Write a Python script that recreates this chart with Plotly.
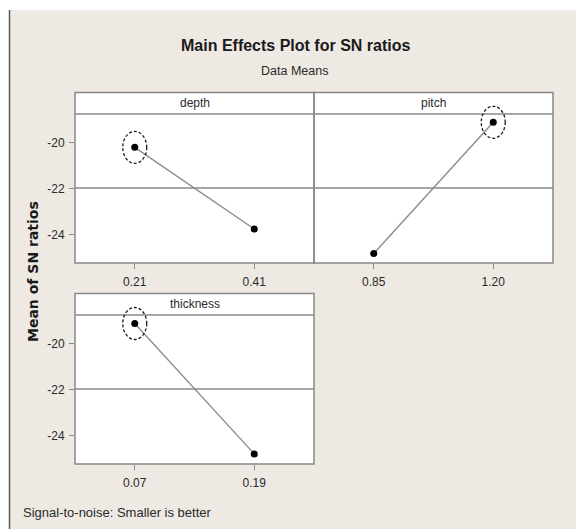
import plotly.graph_objects as go

W, H = 576, 529

# ---- data ----
factor_names = ["depth", "pitch", "thickness"]
depth_levels = ["0.21", "0.41"]
depth_sn = [-20.19, -23.74]
pitch_levels = ["0.85", "1.20"]
pitch_sn = [-24.81, -19.10]
thickness_levels = ["0.07", "0.19"]
thickness_sn = [-19.11, -24.78]
y_ticks = [-20, -22, -24]
y_range = [-25.22, -18.74]
x_range = [-0.5, 1.5]

levels_all = [depth_levels, pitch_levels, thickness_levels]
sn_all = [depth_sn, pitch_sn, thickness_sn]
overall_mean = sum(sum(v) for v in sn_all) / sum(len(v) for v in sn_all)


def px(x):
    return x / W


def py(y):
    return 1 - y / H


# panel geometry in pixels: (left, right, plot_top, plot_bottom, strip_top)
panels = [
    (75, 314, 114, 263, 92.5),
    (314, 553, 114, 263, 92.5),
    (75, 314, 315, 464, 293.5),
]

BEIGE = "#eee9e2"
GRID = "#888888"
TXT = "#2a2a2a"
FONT = "Liberation Sans, Arial, sans-serif"

fig = go.Figure()
shapes = []
annotations = []

for i, (name, lv, sn, geo) in enumerate(zip(factor_names, levels_all, sn_all, panels)):
    l, r, pt, pb, st = geo
    ax = "" if i == 0 else str(i + 1)
    xname, yname = "x" + ax, "y" + ax
    xd = [px(l), px(r)]
    yd = [py(pb), py(pt)]
    fig.add_trace(go.Scatter(
        x=lv, y=sn, xaxis=xname, yaxis=yname, mode="lines+markers",
        line=dict(color="#8c8c8c", width=1.4),
        marker=dict(color="black", size=7),
        showlegend=False, hoverinfo="x+y",
    ))
    show_y = (i != 1)
    fig.update_layout(**{
        "xaxis" + ax: dict(
            domain=xd, anchor=yname, type="category",
            categoryorder="array", categoryarray=lv,
            range=x_range, showgrid=False, zeroline=False, showline=False,
            ticks="outside", ticklen=5, tickcolor=GRID, tickwidth=1,
            tickfont=dict(family=FONT, size=12, color=TXT),
            ticklabelstandoff=3, fixedrange=True,
        ),
        "yaxis" + ax: dict(
            domain=yd, anchor=xname, range=y_range,
            tickvals=y_ticks if show_y else [], ticktext=[str(t) for t in y_ticks] if show_y else [],
            showticklabels=show_y, showgrid=False, zeroline=False, showline=False,
            ticks="outside" if show_y else "", ticklen=5, tickcolor=GRID, tickwidth=1,
            tickfont=dict(family=FONT, size=12, color=TXT),
            ticklabelstandoff=2, fixedrange=True,
        ),
    })
    # strip header
    shapes.append(dict(type="rect", xref="paper", yref="paper",
                       x0=px(l), x1=px(r), y0=py(pt), y1=py(st),
                       fillcolor="white", line=dict(width=0), layer="below"))
    # panel border (strip + plot) and strip separator
    shapes.append(dict(type="rect", xref="paper", yref="paper",
                       x0=px(l), x1=px(r), y0=py(pb), y1=py(st),
                       line=dict(color=GRID, width=1.5)))
    shapes.append(dict(type="line", xref="paper", yref="paper",
                       x0=px(l), x1=px(r), y0=py(pt), y1=py(pt),
                       line=dict(color=GRID, width=1.5)))
    annotations.append(dict(text=name, xref="paper", yref="paper",
                            x=(px(l) + px(r)) / 2, y=(py(pt) + py(st)) / 2,
                            xanchor="center", yanchor="middle", showarrow=False,
                            font=dict(family=FONT, size=12, color=TXT)))
    # reference line at overall mean
    shapes.append(dict(type="line", xref=xname + " domain", yref=yname,
                       x0=0, x1=1, y0=overall_mean, y1=overall_mean,
                       line=dict(color=GRID, width=1.5), layer="below"))
    # dashed ellipse around the best (largest SN) level (paper coords so it is not clipped)
    k = sn.index(max(sn))
    ex = xd[0] + (k - x_range[0]) / (x_range[1] - x_range[0]) * (xd[1] - xd[0])
    ey = yd[0] + (sn[k] - y_range[0]) / (y_range[1] - y_range[0]) * (yd[1] - yd[0])
    shapes.append(dict(type="circle", xref="paper", yref="paper",
                       xsizemode="pixel", ysizemode="pixel", xanchor=ex, yanchor=ey,
                       x0=-12, x1=12, y0=-16, y1=16,
                       line=dict(color="#1a1a1a", width=1.3, dash="3px,2px")))

# frame: white margin top / left and a dark left border
shapes.append(dict(type="rect", xref="paper", yref="paper", x0=0, x1=1, y0=py(10), y1=1,
                   fillcolor="white", line=dict(width=0)))
shapes.append(dict(type="rect", xref="paper", yref="paper", x0=0, x1=px(9), y0=0, y1=1,
                   fillcolor="white", line=dict(width=0)))
shapes.append(dict(type="line", xref="paper", yref="paper", x0=px(9.5), x1=px(9.5),
                   y0=0, y1=py(10), line=dict(color="#5a5a5a", width=1.5)))

annotations += [
    dict(text="<b>Main Effects Plot for SN ratios</b>", xref="paper", yref="paper",
         x=px(295), y=py(45), xanchor="center", yanchor="middle", showarrow=False,
         font=dict(family=FONT, size=16, color="#1a1a1a")),
    dict(text="Data Means", xref="paper", yref="paper",
         x=px(294), y=py(71), xanchor="center", yanchor="middle", showarrow=False,
         font=dict(family=FONT, size=12.5, color=TXT)),
    dict(text="<b>Mean of SN ratios</b>", xref="paper", yref="paper",
         x=px(33), y=py(272), xanchor="center", yanchor="middle", showarrow=False,
         textangle=-90, font=dict(family="DejaVu Sans, sans-serif", size=14, color="#1a1a1a")),
    dict(text="Signal-to-noise: Smaller is better", xref="paper", yref="paper",
         x=px(21), y=py(512), xanchor="left", yanchor="middle", showarrow=False,
         font=dict(family=FONT, size=13, color=TXT)),
]

fig.update_layout(
    width=W, height=H, margin=dict(l=0, r=0, t=0, b=0, pad=0),
    paper_bgcolor=BEIGE, plot_bgcolor="white",
    shapes=shapes, annotations=annotations, showlegend=False,
)

fig.write_html("out.html", config={"displayModeBar": False})
